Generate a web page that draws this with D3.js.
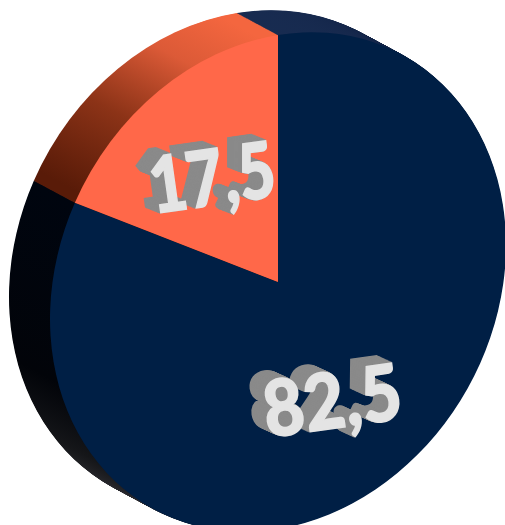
<!DOCTYPE html>
<html>
<head>
<meta charset="utf-8">
<script src="https://cdn.jsdelivr.net/npm/d3@7"></script>
<style>
  html, body { margin: 0; padding: 0; background: #fff; overflow: hidden; }
  text { font-family: "Lato", sans-serif; font-weight: 900; }
</style>
</head>
<body>
<div id="chart"></div>
<script>
// Pie data
var categories = ["a", "b"];
var values = [82.5, 17.5];

var width = 505, height = 525;

var faceColors = ["#001f45", "#ff6849"];
var labelPos = [[336, 428], [216, 205]];
var labelShift = [[-14, -9], [-14, -8]];
var labelWidth = [0.9, 0.82];

// The disc is a pie pushed through a skewed matrix, sides are stacked copies
var cx = 278, cy = 282, radius = 100;
var faceMatrix = [2.28, -0.37, 0, 2.47];
var depth = {x: -41, y: -22};

var svg = d3.select("#chart").append("svg")
  .attr("width", width)
  .attr("height", height);

var defs = svg.append("defs");

// screen position to the pie's own coordinates
function toLocal(x, y) {
  var a = faceMatrix[0], b = faceMatrix[1], d = faceMatrix[3];
  var lx = (x - cx) / a;
  return [lx, (y - cy - b * lx) / d];
}

function sideGradient(id, from, to, stops) {
  var s = toLocal(from[0], from[1]);
  var e = toLocal(to[0], to[1]);
  var g = defs.append("linearGradient")
    .attr("id", id)
    .attr("gradientUnits", "userSpaceOnUse")
    .attr("x1", s[0]).attr("y1", s[1])
    .attr("x2", e[0]).attr("y2", e[1]);
  stops.forEach(function(c) {
    g.append("stop").attr("offset", c[0]).attr("stop-color", c[1]);
  });
}

sideGradient("side0", [278, 15], [278, 490], [
  [0, "#1a2f55"], [0.1, "#14264a"], [0.33, "#00050f"],
  [0.7, "#020409"], [0.88, "#151619"], [1, "#2a2a2f"]
]);
sideGradient("side1", [245, 15], [70, 180], [
  [0, "#f4663f"], [0.3, "#dc5a37"], [0.65, "#8c3317"], [1, "#591b08"]
]);

var pie = d3.pie().sort(null).value(function(d) { return d; });
var arc = d3.arc().innerRadius(0).outerRadius(radius);
var slices = pie(values);

function matrixAt(t) {
  return "matrix(" + faceMatrix.join(",") + "," + (cx + depth.x * t) + "," + (cy + depth.y * t) + ")";
}

// Extruded side, back to front
var steps = d3.range(1, 0, -1 / 60);
svg.append("g").selectAll("g")
  .data(steps)
  .enter()
  .append("g")
  .attr("transform", function(t) { return matrixAt(t); })
  .selectAll("path")
  .data(slices)
  .enter()
  .append("path")
  .attr("d", arc)
  .attr("fill", function(d, i) { return "url(#side" + i + ")"; });

// Front face
svg.append("g")
  .attr("transform", matrixAt(0))
  .selectAll("path")
  .data(slices)
  .enter()
  .append("path")
  .attr("d", arc)
  .attr("fill", function(d, i) { return faceColors[i]; });

// Block labels
var labels = svg.append("g").selectAll("g")
  .data(values)
  .enter()
  .append("g")
  .attr("transform", function(d, i) {
    return "translate(" + labelPos[i][0] + "," + labelPos[i][1] + ") rotate(-8) scale(" + labelWidth[i] + ",1)";
  });

labels.each(function(d, i) {
  var g = d3.select(this);
  var label = String(d).replace(".", ",");
  d3.range(1, 0, -1 / 16).forEach(function(t) {
    g.append("text")
      .attr("text-anchor", "middle")
      .attr("font-size", 78)
      .attr("x", labelShift[i][0] * t / labelWidth[i])
      .attr("y", labelShift[i][1] * t)
      .attr("fill", "#8a8a8a")
      .attr("stroke", "#8a8a8a")
      .attr("stroke-width", 2)
      .text(label);
  });
  g.append("text")
    .attr("text-anchor", "middle")
    .attr("font-size", 78)
    .attr("fill", "#e4e4e4")
    .attr("stroke", "#e4e4e4")
    .attr("stroke-width", 1.5)
    .text(label);
});
</script>
</body>
</html>
